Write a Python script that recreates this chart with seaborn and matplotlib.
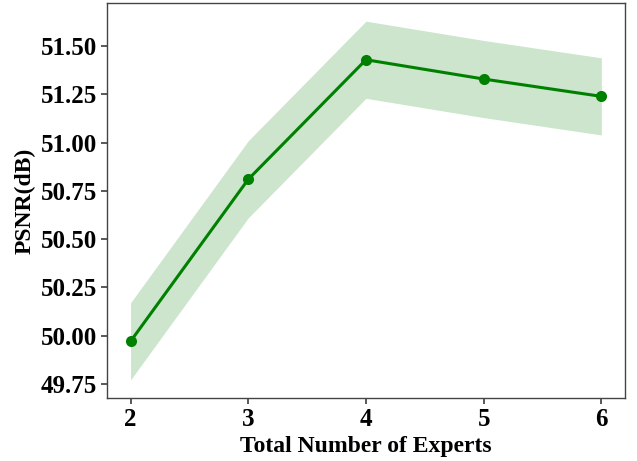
import matplotlib.pyplot as plt
import pandas as pd
import seaborn as sns

experts = [2, 3, 4, 5, 6]
psnr = [49.97, 50.81, 51.43, 51.33, 51.24]
band_lo = [49.77, 50.61, 51.23, 51.13, 51.04]
band_hi = [50.17, 51.01, 51.63, 51.53, 51.44]
yticks = [49.75, 50.00, 50.25, 50.50, 50.75, 51.00, 51.25, 51.50]

sns.set_theme(style="ticks")
plt.rcParams["font.family"] = ["Liberation Serif", "DejaVu Serif"]
plt.rcParams["font.weight"] = "bold"
plt.rcParams["text.color"] = "black"
plt.rcParams["axes.labelcolor"] = "black"
plt.rcParams["xtick.color"] = "black"
plt.rcParams["ytick.color"] = "black"

df = pd.DataFrame({"experts": experts, "psnr": psnr})

fig = plt.figure(figsize=(6.37, 4.61), dpi=100)
ax = fig.add_axes([0.168, 0.137, 0.813, 0.856])

ax.fill_between(experts, band_lo, band_hi, color="green", alpha=0.2, lw=0)
sns.lineplot(data=df, x="experts", y="psnr", ax=ax, color="green", lw=2.2,
             marker="o", markersize=8, markeredgewidth=0)

ax.set_xticks(experts)
ax.set_yticks(yticks)
ax.set_yticklabels([f"{v:.2f}" for v in yticks])
ax.tick_params(labelsize=18, length=4, color="#444444", labelcolor="black",
               direction="out", pad=3)
for lab in ax.get_xticklabels() + ax.get_yticklabels():
    lab.set_fontweight("bold")
for sp in ax.spines.values():
    sp.set_visible(True)
    sp.set_color("#444444")
    sp.set_linewidth(1.0)

ax.set_xlabel("Total Number of Experts", fontsize=17, fontweight="bold",
              color="black", labelpad=4)
ax.set_ylabel("PSNR(dB)", fontsize=17, fontweight="bold", color="black",
              labelpad=4)

fig.savefig("out.png", dpi=100)
